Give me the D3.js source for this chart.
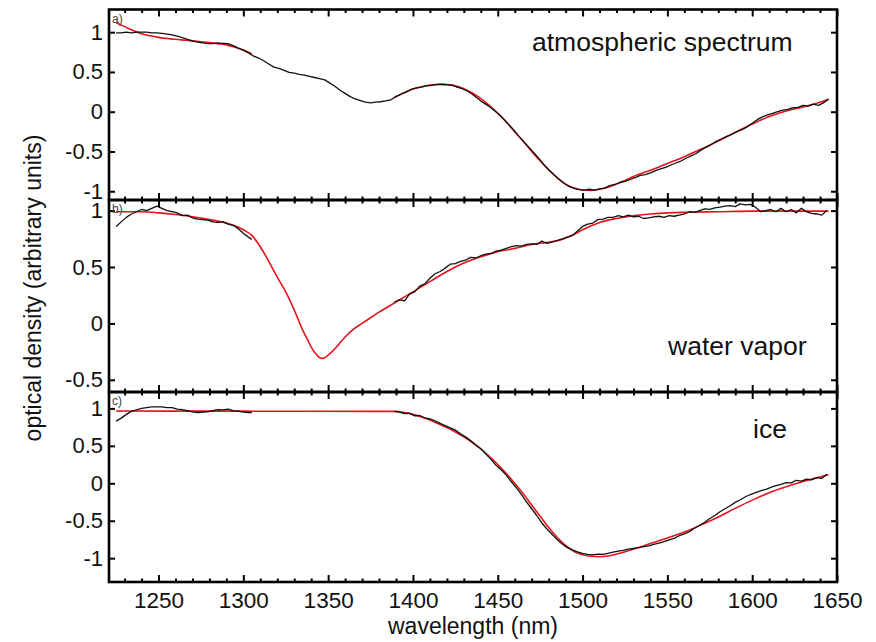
<!DOCTYPE html>
<html>
<head>
<meta charset="utf-8">
<script src="https://cdn.jsdelivr.net/npm/d3@7"></script>
<style>
  body { margin: 0; background: #fff; }
  svg { display: block; }
  text { font-family: "Liberation Sans", Arial, Helvetica, sans-serif; }
</style>
</head>
<body>
<div id="chart"></div>
<script>
// ---- data: [wavelength nm, optical density] ----

// a) atmospheric spectrum, measured (black)
const atmMeasured = [
  [1225,.99],[1228,.99],[1231,1.0],[1234,.99],[1237,1.0],[1240,1.0],[1243,1.0],[1246,.99],[1249,.99],[1252,.985],
  [1255,.975],[1258,.965],[1261,.95],[1264,.93],[1267,.91],[1270,.89],[1273,.875],[1276,.865],[1279,.855],[1282,.855],
  [1285,.865],[1288,.86],[1291,.855],[1294,.83],[1297,.80],[1300,.775],[1303,.74],[1306,.70],[1309,.675],[1312,.64],
  [1315,.60],[1318,.56],[1321,.545],[1324,.52],[1327,.495],[1330,.485],[1333,.47],[1336,.46],[1339,.445],[1342,.43],
  [1345,.415],[1348,.40],[1351,.36],[1354,.32],[1357,.27],[1360,.23],[1363,.19],[1366,.16],[1369,.14],[1372,.12],
  [1375,.11],[1378,.12],[1381,.125],[1384,.135],[1387,.15],[1390,.19],[1393,.22],[1396,.25],[1399,.28],[1402,.30],
  [1405,.31],[1408,.325],[1411,.33],[1414,.34],[1417,.345],[1420,.34],[1423,.335],[1426,.31],[1429,.29],[1432,.26],
  [1435,.22],[1438,.17],[1441,.12],[1444,.08],[1447,.03],[1450,-.02],[1453,-.08],[1456,-.15],[1459,-.22],[1462,-.30],
  [1465,-.37],[1468,-.44],[1471,-.51],[1474,-.58],[1477,-.66],[1480,-.73],[1483,-.79],[1486,-.85],[1489,-.90],[1492,-.94],
  [1495,-.965],[1498,-.98],[1501,-.985],[1504,-.975],[1507,-.985],[1510,-.97],[1513,-.96],[1516,-.93],[1519,-.915],[1522,-.89],
  [1525,-.875],[1528,-.85],[1531,-.83],[1534,-.80],[1537,-.79],[1540,-.77],[1543,-.74],[1546,-.72],[1549,-.70],[1552,-.67],
  [1555,-.645],[1558,-.62],[1561,-.585],[1564,-.555],[1567,-.525],[1570,-.48],[1573,-.445],[1576,-.41],[1579,-.37],[1582,-.34],
  [1585,-.31],[1588,-.285],[1591,-.25],[1594,-.225],[1597,-.19],[1600,-.145],[1603,-.10],[1606,-.065],[1609,-.04],[1612,-.02],
  [1615,.0],[1618,.02],[1621,.03],[1624,.05],[1627,.055],[1630,.08],[1633,.07],[1636,.095],[1639,.08],[1642,.11],[1645,.16]
];
// a) fitted model (red), two windows
const atmFitLow = [
  [1225,1.12],[1230,1.07],[1235,1.02],[1240,.98],[1245,.955],[1250,.935],[1255,.92],[1260,.91],[1265,.90],
  [1270,.89],[1275,.88],[1280,.87],[1285,.855],[1290,.84],[1295,.81],[1300,.775],[1305,.73]
];
const atmFitHigh = [
  [1389,.18],[1395,.24],[1400,.285],[1405,.315],[1410,.335],[1415,.345],[1420,.34],[1425,.325],[1430,.29],[1435,.235],
  [1440,.165],[1445,.08],[1450,-.02],[1455,-.13],[1460,-.25],[1465,-.37],[1470,-.50],[1475,-.62],[1480,-.73],[1485,-.83],
  [1490,-.91],[1495,-.96],[1500,-.985],[1505,-.99],[1510,-.975],[1515,-.95],[1520,-.91],[1525,-.865],[1530,-.815],[1540,-.735],
  [1550,-.65],[1560,-.565],[1570,-.47],[1580,-.37],[1590,-.26],[1600,-.155],[1610,-.06],[1620,.01],[1630,.06],[1640,.12],[1645,.155]
];

// b) water vapor, measured (black), two windows
const vapMeasuredLow = [
  [1225,.86],[1228,.90],[1231,.94],[1234,.97],[1237,.99],[1240,1.01],[1243,1.0],[1246,1.02],[1249,1.04],[1252,1.02],
  [1255,1.0],[1258,.99],[1261,.98],[1264,.955],[1267,.96],[1270,.935],[1273,.925],[1276,.92],[1279,.915],[1282,.90],
  [1285,.895],[1288,.90],[1291,.88],[1294,.87],[1297,.84],[1300,.80],[1303,.765],[1305,.745]
];
const vapMeasuredHigh = [
  [1389,.19],[1392,.21],[1395,.20],[1398,.26],[1401,.28],[1404,.33],[1407,.35],[1410,.40],[1413,.44],[1416,.46],
  [1419,.49],[1422,.525],[1425,.53],[1428,.55],[1431,.56],[1434,.585],[1437,.58],[1440,.60],[1443,.615],[1446,.62],
  [1449,.64],[1452,.65],[1455,.665],[1458,.68],[1461,.69],[1464,.685],[1467,.70],[1470,.705],[1473,.70],[1476,.73],
  [1479,.71],[1482,.72],[1485,.735],[1488,.75],[1491,.765],[1494,.78],[1497,.82],[1500,.86],[1503,.88],[1506,.89],
  [1509,.92],[1512,.925],[1515,.94],[1518,.94],[1521,.955],[1524,.945],[1527,.96],[1530,.945],[1533,.95],[1536,.93],
  [1539,.935],[1542,.945],[1545,.95],[1548,.94],[1551,.955],[1554,.95],[1557,.96],[1560,.97],[1563,.99],[1566,.985],
  [1569,1.0],[1572,1.015],[1575,1.01],[1578,1.025],[1581,1.03],[1584,1.04],[1587,1.045],[1590,1.035],[1593,1.06],[1596,1.05],
  [1599,1.055],[1602,1.03],[1605,.99],[1608,1.0],[1611,1.01],[1614,.99],[1617,1.02],[1620,.99],[1623,1.01],[1626,.98],
  [1629,1.02],[1632,.99],[1635,.975],[1638,.97],[1641,.96],[1644,1.0]
];
// b) fitted model (red), continuous
const vapFit = [
  [1225,.99],[1240,.99],[1250,.98],[1260,.965],[1270,.945],[1280,.92],[1290,.89],[1295,.865],[1300,.83],[1305,.78],
  [1310,.68],[1315,.55],[1320,.41],[1325,.28],[1330,.12],[1335,-.06],[1338,-.15],[1341,-.235],[1344,-.29],[1346,-.31],
  [1348,-.305],[1350,-.28],[1353,-.24],[1356,-.19],[1360,-.12],[1365,-.05],[1370,0],[1375,.05],[1380,.10],[1385,.145],
  [1390,.19],[1400,.28],[1410,.37],[1420,.46],[1430,.535],[1440,.59],[1450,.635],[1460,.665],[1470,.70],[1480,.72],
  [1488,.745],[1495,.79],[1500,.83],[1505,.865],[1510,.895],[1520,.93],[1530,.955],[1540,.97],[1550,.98],[1560,.985],
  [1580,.99],[1600,.995],[1645,.995]
];

// c) ice, measured (black), two windows
const iceMeasuredLow = [
  [1225,.83],[1228,.87],[1231,.92],[1234,.96],[1237,.98],[1240,1.0],[1243,1.01],[1246,1.02],[1249,1.02],[1252,1.02],
  [1255,1.01],[1258,1.01],[1261,.99],[1264,.985],[1267,.97],[1270,.955],[1273,.945],[1276,.95],[1279,.955],[1282,.97],
  [1285,.985],[1288,.98],[1291,.99],[1294,.97],[1297,.965],[1300,.95],[1303,.945],[1305,.945]
];
const iceMeasuredHigh = [
  [1389,.96],[1392,.95],[1395,.93],[1398,.935],[1401,.90],[1404,.905],[1407,.875],[1410,.86],[1413,.835],[1416,.80],
  [1419,.77],[1422,.74],[1425,.71],[1428,.66],[1431,.62],[1434,.57],[1437,.51],[1440,.46],[1443,.39],[1446,.32],
  [1449,.24],[1452,.18],[1455,.11],[1458,.02],[1461,-.06],[1464,-.15],[1467,-.25],[1470,-.34],[1473,-.43],[1476,-.53],
  [1479,-.61],[1482,-.68],[1485,-.75],[1488,-.81],[1491,-.86],[1494,-.89],[1497,-.915],[1500,-.935],[1503,-.95],[1506,-.955],
  [1509,-.945],[1512,-.95],[1515,-.935],[1518,-.92],[1521,-.905],[1524,-.895],[1527,-.88],[1530,-.87],[1533,-.86],[1536,-.845],
  [1539,-.835],[1542,-.815],[1545,-.80],[1548,-.78],[1551,-.755],[1554,-.735],[1557,-.70],[1560,-.675],[1563,-.645],[1566,-.60],
  [1569,-.56],[1572,-.52],[1575,-.47],[1578,-.43],[1581,-.38],[1584,-.34],[1587,-.30],[1590,-.255],[1593,-.22],[1596,-.18],
  [1599,-.15],[1602,-.125],[1605,-.10],[1608,-.08],[1611,-.055],[1614,-.03],[1617,-.015],[1620,.01],[1623,.005],[1626,.04],
  [1629,.03],[1632,.055],[1635,.045],[1638,.075],[1641,.065],[1644,.12]
];
// c) fitted model (red), continuous
const iceFit = [
  [1225,.965],[1300,.963],[1389,.96],[1395,.945],[1400,.92],[1405,.885],[1410,.845],[1415,.795],[1420,.745],[1425,.685],
  [1430,.62],[1435,.545],[1440,.46],[1445,.36],[1450,.25],[1455,.13],[1460,0],[1465,-.14],[1470,-.29],[1475,-.44],
  [1480,-.59],[1485,-.72],[1490,-.83],[1495,-.91],[1500,-.955],[1505,-.975],[1510,-.98],[1515,-.97],[1520,-.945],[1530,-.88],
  [1540,-.805],[1550,-.73],[1560,-.65],[1570,-.555],[1580,-.45],[1590,-.335],[1600,-.225],[1610,-.125],[1620,-.045],[1630,.025],
  [1640,.085],[1645,.115]
];

// tick values
const xMajorTicks = [1250, 1300, 1350, 1400, 1450, 1500, 1550, 1600, 1650];
const xMinorTicks = [1230, 1240, 1260, 1270, 1280, 1290, 1310, 1320, 1330, 1340, 1360, 1370, 1380, 1390,
  1410, 1420, 1430, 1440, 1460, 1470, 1480, 1490, 1510, 1520, 1530, 1540, 1560, 1570, 1580, 1590,
  1610, 1620, 1630, 1640];
const yTicksA = [-1, -0.5, 0, 0.5, 1];
const yTicksB = [-0.5, 0, 0.5, 1];
const yTicksC = [-1, -0.5, 0, 0.5, 1];

// ---- layout ----
const width = 876, height = 642;
const left = 109, right = 837;

const panels = [
  { tag: 'a)', title: 'atmospheric spectrum', measured: [atmMeasured], fit: [atmFitLow, atmFitHigh],
    domain: [-1.11, 1.285], ticks: yTicksA, top: 9.5, bottom: 200, titleX: 532, titleY: 51 },
  { tag: 'b)', title: 'water vapor', measured: [vapMeasuredLow, vapMeasuredHigh], fit: [vapFit],
    domain: [-0.608, 1.094], ticks: yTicksB, top: 200, bottom: 392, titleX: 668, titleY: 355 },
  { tag: 'c)', title: 'ice', measured: [iceMeasuredLow, iceMeasuredHigh], fit: [iceFit],
    domain: [-1.318, 1.219], ticks: yTicksC, top: 392, bottom: 582, titleX: 753, titleY: 438 }
];

const svg = d3.select('#chart')
  .append('svg')
  .attr('width', width)
  .attr('height', height);

const x = d3.scaleLinear()
  .domain([1220.8, 1650])
  .range([left, right]);

panels.forEach((p, i) => {
  const y = d3.scaleLinear()
    .domain(p.domain)
    .range([p.bottom, p.top]);

  const line = d3.line()
    .x(d => x(d[0]))
    .y(d => y(d[1]));

  const g = svg.append('g');

  // fitted model underneath, measured spectrum on top
  p.fit.forEach(seg => {
    g.append('path')
      .datum(seg)
      .attr('fill', 'none')
      .attr('stroke', '#e8121a')
      .attr('stroke-width', 1.6)
      .attr('stroke-linejoin', 'round')
      .attr('d', line.curve(d3.curveMonotoneX));
  });
  p.measured.forEach(seg => {
    g.append('path')
      .datum(seg)
      .attr('fill', 'none')
      .attr('stroke', '#111')
      .attr('stroke-width', 1.3)
      .attr('stroke-linejoin', 'round')
      .attr('d', line.curve(d3.curveLinear));
  });

  // x ticks, pointing inward on top and bottom
  const isLast = i === panels.length - 1;
  const addX = (axisFn, yPos, values, size, labels) => {
    const ax = svg.append('g')
      .attr('transform', `translate(0,${yPos})`)
      .call(axisFn(x).tickValues(values).tickSize(-size).tickPadding(10)
        .tickFormat(labels ? d3.format('d') : ''));
    ax.select('.domain').remove();
    ax.selectAll('line').attr('stroke', '#000').attr('stroke-width', 2);
    ax.selectAll('text').attr('font-size', '22.5px').attr('fill', '#111');
  };
  addX(d3.axisBottom, p.bottom, xMajorTicks, 7, isLast);
  addX(d3.axisBottom, p.bottom, xMinorTicks, 3.5, false);
  addX(d3.axisTop, p.top, xMajorTicks, 7, false);
  addX(d3.axisTop, p.top, xMinorTicks, 3.5, false);

  // y ticks, left with labels, right plain
  const yl = svg.append('g')
    .attr('transform', `translate(${left},0)`)
    .call(d3.axisLeft(y).tickValues(p.ticks).tickSize(-6).tickPadding(6).tickFormat(d => String(d)));
  yl.select('.domain').remove();
  yl.selectAll('line').attr('stroke', '#000').attr('stroke-width', 2);
  yl.selectAll('text').attr('font-size', '22px').attr('fill', '#111');

  const yr = svg.append('g')
    .attr('transform', `translate(${right},0)`)
    .call(d3.axisRight(y).tickValues(p.ticks).tickSize(-6).tickFormat(''));
  yr.select('.domain').remove();
  yr.selectAll('line').attr('stroke', '#000').attr('stroke-width', 2);

  // frame
  svg.append('rect')
    .attr('x', left)
    .attr('y', p.top)
    .attr('width', right - left)
    .attr('height', p.bottom - p.top)
    .attr('fill', 'none')
    .attr('stroke', '#000')
    .attr('stroke-width', 2.6);

  // panel tag and title
  svg.append('text')
    .attr('x', left + 3)
    .attr('y', p.top + 13)
    .attr('font-size', '12px')
    .attr('fill', '#444')
    .text(p.tag);

  svg.append('text')
    .attr('x', p.titleX)
    .attr('y', p.titleY)
    .attr('font-size', '26.5px')
    .attr('fill', '#111')
    .text(p.title);
});

// axis titles
svg.append('text')
  .attr('x', (left + right) / 2)
  .attr('y', 634)
  .attr('text-anchor', 'middle')
  .attr('font-size', '23px')
  .attr('fill', '#111')
  .text('wavelength (nm)');

svg.append('text')
  .attr('transform', 'translate(41,288) rotate(-90)')
  .attr('text-anchor', 'middle')
  .attr('font-size', '23px')
  .attr('fill', '#111')
  .text('optical density (arbitrary units)');
</script>
</body>
</html>
